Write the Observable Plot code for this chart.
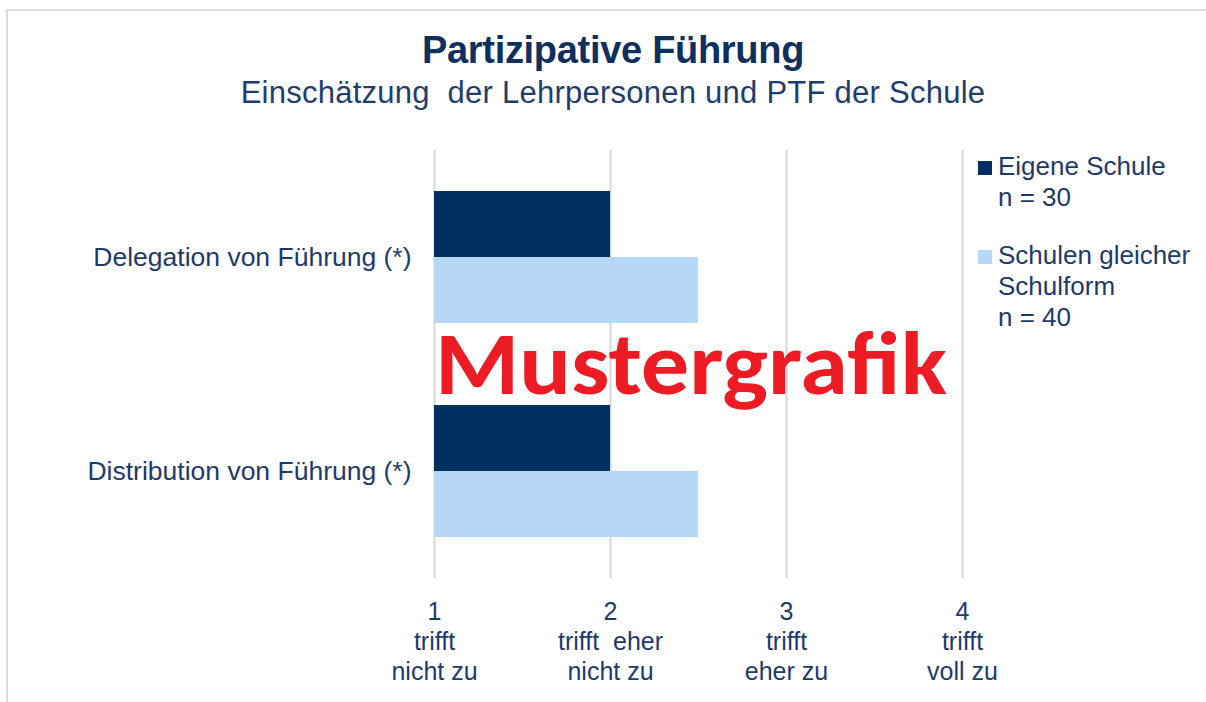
<!DOCTYPE html>
<html>
<head>
<meta charset="utf-8">
<script src="https://cdn.jsdelivr.net/npm/d3@7"></script>
<script src="https://cdn.jsdelivr.net/npm/@observablehq/plot@0.6"></script>
<style>
  html, body { margin: 0; padding: 0; background: #fff; }
  body { width: 1206px; height: 702px; position: relative; overflow: hidden; font-family: "Liberation Sans", Arial, sans-serif; }
  #frame { position: absolute; left: 6px; top: 9px; right: -10px; bottom: -10px; border-top: 2px solid #dcdcdc; border-left: 2px solid #dcdcdc; }
  #title { position: absolute; left: 0; width: 1226px; top: 31px; text-align: center; font-size: 38px; font-weight: bold; color: #0f2f5e; letter-spacing: -0.3px; line-height: 38px; }
  #subtitle { position: absolute; left: 0; width: 1226px; top: 76px; text-align: center; font-size: 31px; color: #1f3d6d; line-height: 34px; white-space: pre; letter-spacing: 0.25px; }
  #chart { position: absolute; left: 0; top: 140px; }
  .leg { position: absolute; left: 998px; font-size: 26px; line-height: 31px; color: #1f3a6a; white-space: pre; }
  .sw { position: absolute; left: 978px; width: 14px; height: 14px; }
  #wm { position: absolute; left: 0; top: 0; pointer-events: none; }
</style>
</head>
<body>
<div id="frame"></div>
<div id="title"></div>
<div id="subtitle"></div>
<div id="chart"></div>
<div id="legend"></div>
<svg id="wm" width="1206" height="702"><text id="wmtext" x="435" y="394" font-family="Carlito, Calibri, 'Open Sans', sans-serif" font-weight="bold" font-size="90" fill="#ED1C24" textLength="512" lengthAdjust="spacingAndGlyphs"></text></svg>
<script>
// ---- data ----
const titleText = "Partizipative Führung";
const subtitleText = "Einschätzung  der Lehrpersonen und PTF der Schule";
const watermarkText = "Mustergrafik";
const categories = ["Delegation von Führung (*)", "Distribution von Führung (*)"];
const seriesNames = ["Eigene Schule", "Schulen gleicher Schulform"];
const seriesLegend = ["Eigene Schule\nn = 30", "Schulen gleicher\nSchulform\nn = 40"];
const seriesColors = ["#00305F", "#B7D7F6"];
const eigeneSchule = [2.0, 2.0];
const gleicheSchulform = [2.5, 2.5];
const tickValues = [1, 2, 3, 4];
const tickLabels = ["1\ntrifft\nnicht zu", "2\ntrifft  eher\nnicht zu", "3\ntrifft\neher zu", "4\ntrifft\nvoll zu"];
const baseline = 1;

// ---- build table ----
const rows = [];
categories.forEach((c, i) => {
  rows.push({category: c, series: seriesNames[0], value: eigeneSchule[i]});
  rows.push({category: c, series: seriesNames[1], value: gleicheSchulform[i]});
});

document.getElementById("title").textContent = titleText;
document.getElementById("subtitle").textContent = subtitleText;
document.getElementById("wmtext").textContent = watermarkText;

const textColor = "#1f3a6a";

const chart = Plot.plot({
  width: 1206,
  height: 562,
  marginLeft: 434,
  marginRight: 244,
  marginTop: 10,
  marginBottom: 124,
  style: {fontFamily: "'Liberation Sans', Arial, sans-serif", color: textColor, background: "transparent"},
  x: {domain: [1, 4], axis: null},
  y: {domain: seriesNames, axis: null, paddingInner: 0, paddingOuter: 0.61},
  fy: {domain: categories, padding: 0, axis: null},
  color: {domain: seriesNames, range: seriesColors},
  marks: [
    Plot.ruleX(tickValues, {stroke: "#d6d6d6", strokeWidth: 2}),
    Plot.barX(rows, {x1: () => baseline, x2: "value", y: "series", fy: "category", fill: "series"}),
    Plot.axisFy({anchor: "left", tickSize: 0, tickPadding: 23, fontSize: 26.5, label: null, fill: textColor}),
    Plot.axisX({anchor: "bottom", ticks: tickValues, tickSize: 0, tickPadding: 20, fontSize: 25, lineHeight: 1.2, label: null, fill: textColor,
      tickFormat: (d) => tickLabels[tickValues.indexOf(d)]})
  ]
});
document.getElementById("chart").appendChild(chart);

// ---- legend ----
const legend = document.getElementById("legend");
const legTops = [151, 240];
seriesLegend.forEach((t, i) => {
  const sw = document.createElement("div");
  sw.className = "sw";
  sw.style.top = (legTops[i] + 10) + "px";
  sw.style.background = seriesColors[i];
  legend.appendChild(sw);
  const d = document.createElement("div");
  d.className = "leg";
  d.style.top = legTops[i] + "px";
  d.textContent = t;
  legend.appendChild(d);
});
</script>
</body>
</html>
